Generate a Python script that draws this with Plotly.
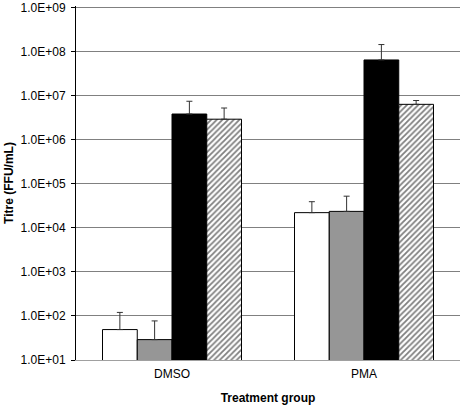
import plotly.graph_objects as go

categories = ["DMSO", "PMA"]
series_names = ["Series 1", "Series 2", "Series 3", "Series 4"]
values = [
    [49, 2.2e4],
    [29, 2.35e4],
    [3.8e6, 6.4e7],
    [2.9e6, 6.3e6],
]
error_tops = [
    [120, 3.9e4],
    [77, 5.2e4],
    [7.4e6, 1.43e8],
    [5.2e6, 7.7e6],
]
tick_vals = [1e1, 1e2, 1e3, 1e4, 1e5, 1e6, 1e7, 1e8, 1e9]
tick_text = ["1.0E+01", "1.0E+02", "1.0E+03", "1.0E+04", "1.0E+05",
             "1.0E+06", "1.0E+07", "1.0E+08", "1.0E+09"]

fills = ["#ffffff", "#969696", "#000000", "#ffffff"]
patterns = ["", "", "", "/"]

fig = go.Figure()
for i, name in enumerate(series_names):
    errs = [t - v for t, v in zip(error_tops[i], values[i])]
    fig.add_trace(go.Bar(
        x=categories, y=values[i], name=name,
        marker=dict(color=fills[i], line=dict(color="#000000", width=1),
                    pattern=dict(shape=patterns[i], fgcolor="#000000",
                                 bgcolor="#ffffff", size=4, solidity=0.45)),
        error_y=dict(type="data", symmetric=False, array=errs,
                     arrayminus=[0, 0], color="#333333", thickness=1, width=3),
    ))

font = "Liberation Sans, Arial, sans-serif"
fig.update_layout(
    width=461, height=405,
    margin=dict(l=76, r=1, t=4, b=45),
    paper_bgcolor="white", plot_bgcolor="white",
    barmode="group", bargap=0.276, bargroupgap=0,
    showlegend=False,
    font=dict(family=font, size=12, color="#000000"),
    xaxis=dict(
        showline=True, linecolor="#a0a0a0", linewidth=1,
        ticks="", tickfont=dict(size=12), ticklabelstandoff=3,
        title=dict(text="<b>Treatment group</b>", font=dict(size=12), standoff=14),
    ),
    yaxis=dict(
        type="log", range=[1, 9.03],
        tickvals=tick_vals, ticktext=tick_text,
        ticklabeloverflow="allow", ticklabelstandoff=3,
        showline=True, linecolor="#000000", linewidth=1,
        ticks="outside", ticklen=4, tickcolor="#000000",
        showgrid=True, gridcolor="#808080", gridwidth=1,
        tickfont=dict(size=12),
        title=dict(text="<b>Titre (FFU/mL)</b>", font=dict(size=12), standoff=4),
    ),
)

fig.write_html("out.html", config={"displayModeBar": False},
               post_script="document.body.style.margin='0';document.body.style.padding='0';")
